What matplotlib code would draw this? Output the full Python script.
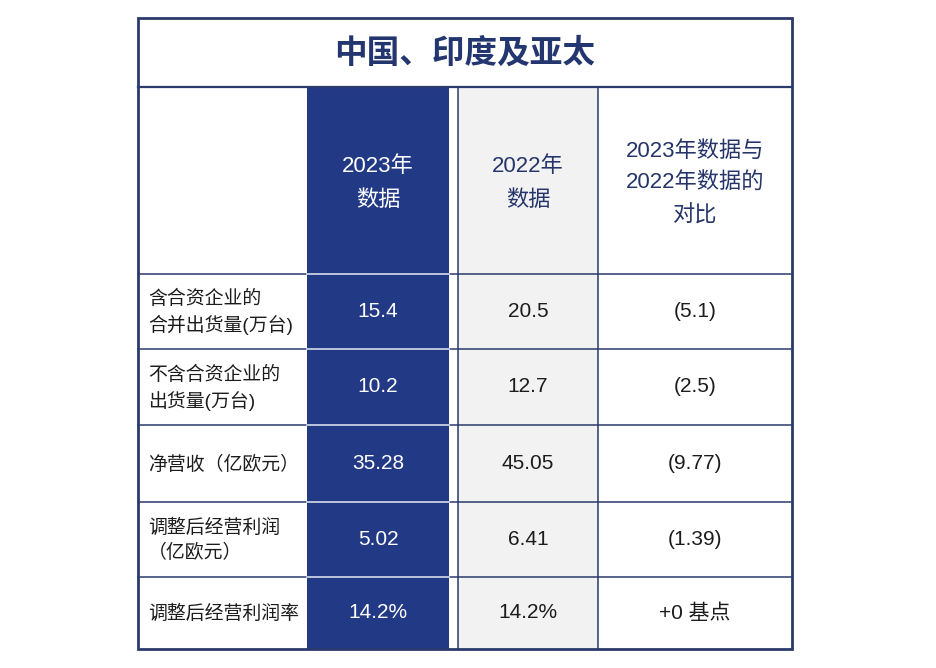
import matplotlib.pyplot as plt
from matplotlib.patches import Rectangle

plt.rcParams['font.family'] = ['Liberation Sans', 'Noto Sans CJK SC', 'DejaVu Sans']

# 表格内容
title = '中国、印度及亚太'
col_headers = ['2023年\n数据', '2022年\n数据', '2023年数据与\n2022年数据的\n对比']
row_labels = ['含合资企业的\n合并出货量(万台)', '不含合资企业的\n出货量(万台)',
              '净营收（亿欧元）', '调整后经营利润\n（亿欧元）', '调整后经营利润率']
vals_2023 = ['15.4', '10.2', '35.28', '5.02', '14.2%']
vals_2022 = ['20.5', '12.7', '45.05', '6.41', '14.2%']
vals_diff = ['(5.1)', '(2.5)', '(9.77)', '(1.39)', '+0 基点']

# 颜色
navy = '#2b3a6c'
dark_blue = '#223985'
gray = '#f2f2f3'
txt = '#1c1c1c'
head_txt = '#25356a'

# 版面 (像素)
W, H = 937, 668
left, right, top, bottom = 138, 792, 18, 649
title_bottom, header_bottom = 87, 274
row_edges = [274, 349, 425, 502, 577, 649]
dark_x0, dark_x1 = 307, 449
gray_x0, gray_x1 = 458, 598

fig = plt.figure(figsize=(W / 100, H / 100), dpi=100)
ax = fig.add_axes([0, 0, 1, 1])
ax.set_xlim(0, W)
ax.set_ylim(H, 0)
ax.axis('off')

# 列底色
ax.add_patch(Rectangle((gray_x0, title_bottom), gray_x1 - gray_x0, bottom - title_bottom,
                       facecolor=gray, edgecolor='none', zorder=1))
ax.add_patch(Rectangle((dark_x0, title_bottom), dark_x1 - dark_x0, bottom - title_bottom,
                       facecolor=dark_blue, edgecolor='none', zorder=1))

# 横线
ax.plot([left, right], [title_bottom, title_bottom], color=navy, lw=1.6, zorder=3)
for y in row_edges[:-1]:
    ax.plot([left, right], [y, y], color=navy, lw=1.1, zorder=2)
    ax.plot([dark_x0, dark_x1], [y, y], color='#c9d0e6', lw=1.3, zorder=2.5)

# 竖线
for x in [gray_x0, gray_x1]:
    ax.plot([x, x], [title_bottom, bottom], color=navy, lw=1.1, zorder=2)

# 外框
ax.add_patch(Rectangle((left, top), right - left, bottom - top,
                       facecolor='none', edgecolor=navy, lw=2.0, zorder=4))

# 标题
ax.text((left + right) / 2, (top + title_bottom) / 2 + 1, title, ha='center', va='center',
        fontsize=23.5, fontweight='bold', color='#23366f', zorder=5,
        family=['Noto Sans CJK SC'])

# 表头
hy = (title_bottom + header_bottom) / 2 + 3
centers = [(dark_x0 + dark_x1) / 2, (gray_x0 + gray_x1) / 2, (gray_x1 + right) / 2]
head_colors = ['white', head_txt, head_txt]
head_spacing = [1.85, 1.85, 1.7]
for cx, h, c, ls in zip(centers, col_headers, head_colors, head_spacing):
    ax.text(cx, hy, h, ha='center', va='center', fontsize=16, color=c,
            linespacing=ls, zorder=5)

# 数据行
for i, lab in enumerate(row_labels):
    cy = (row_edges[i] + row_edges[i + 1]) / 2
    ax.text(148, cy + 1, lab, ha='left', va='center', fontsize=13.6, color=txt,
            linespacing=1.45, zorder=5)
    ax.text(centers[0], cy, vals_2023[i], ha='center', va='center', fontsize=15,
            color='white', zorder=5)
    ax.text(centers[1], cy, vals_2022[i], ha='center', va='center', fontsize=15,
            color=txt, zorder=5)
    ax.text(centers[2], cy, vals_diff[i], ha='center', va='center', fontsize=15,
            color=txt, zorder=5)

fig.savefig('out.png', dpi=100, facecolor='white')
